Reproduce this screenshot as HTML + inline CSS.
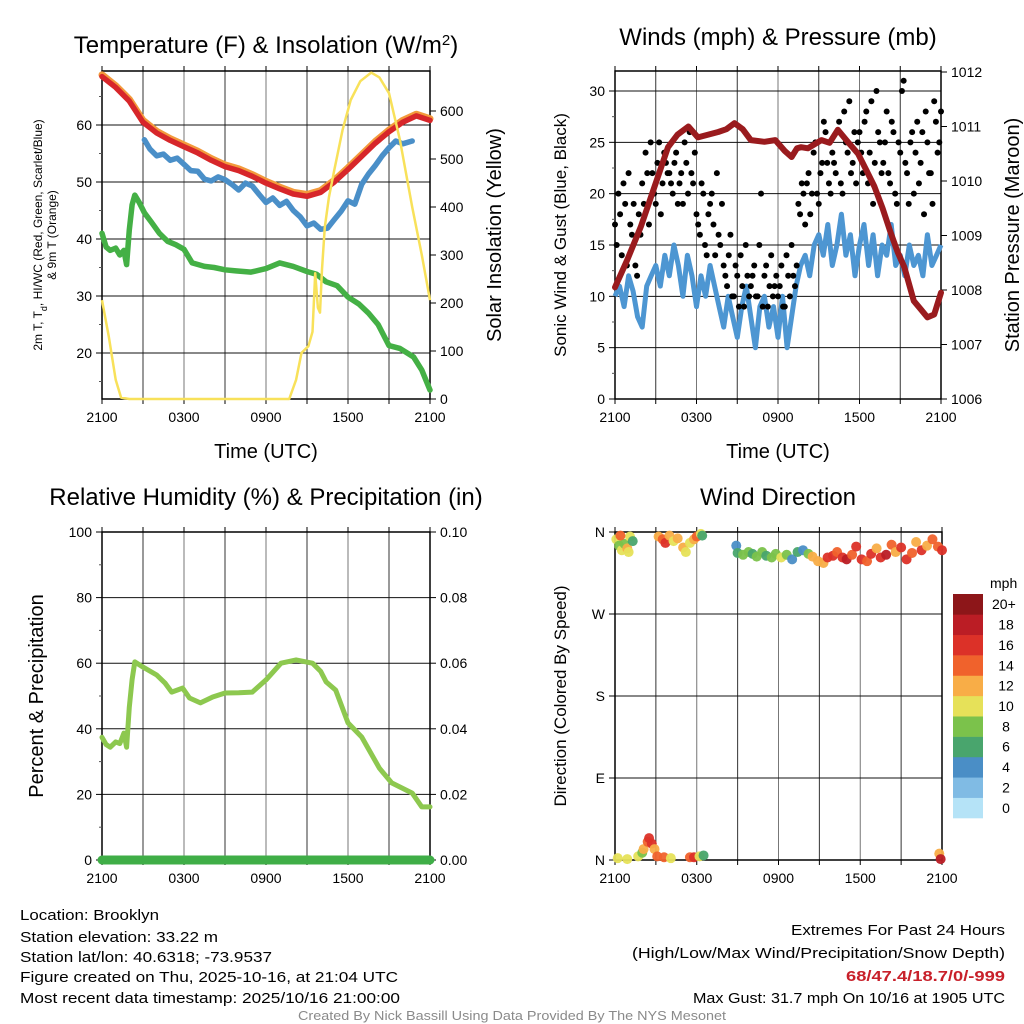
<!DOCTYPE html>
<html><head><meta charset="utf-8"><style>
html,body{margin:0;padding:0;background:#fff;}
svg{display:block;font-family:"Liberation Sans",sans-serif;}
</style></head><body>
<svg id="root" xmlns="http://www.w3.org/2000/svg" width="1024" height="1024" viewBox="0 0 1024 1024">
<rect x="0" y="0" width="1024" height="1024" fill="#fff"/>
<g id="layer"></g>
<text x="266" y="53" font-size="24" text-anchor="middle">Temperature (F) &amp; Insolation (W/m<tspan baseline-shift="super" font-size="15">2</tspan>)</text>
<text x="778" y="45" font-size="24" text-anchor="middle">Winds (mph) &amp; Pressure (mb)</text>
<text x="266" y="505" font-size="24" text-anchor="middle">Relative Humidity (%) &amp; Precipitation (in)</text>
<text x="778" y="505" font-size="24" text-anchor="middle">Wind Direction</text>
<text x="266" y="458" font-size="20" text-anchor="middle">Time (UTC)</text>
<text x="778" y="458" font-size="20" text-anchor="middle">Time (UTC)</text>
<text transform="translate(42,235) rotate(-90)" font-size="12" text-anchor="middle">2m T, T<tspan baseline-shift="sub" font-size="9">d</tspan>, HI/WC (Red, Green, Scarlet/Blue)</text>
<text transform="translate(56,235) rotate(-90)" font-size="12" text-anchor="middle">&amp; 9m T (Orange)</text>
<text transform="translate(501,235) rotate(-90)" font-size="20" text-anchor="middle">Solar Insolation (Yellow)</text>
<text transform="translate(566,235) rotate(-90)" font-size="17" text-anchor="middle">Sonic Wind &amp; Gust (Blue, Black)</text>
<text transform="translate(1019,235) rotate(-90)" font-size="20" text-anchor="middle">Station Pressure (Maroon)</text>
<text transform="translate(43,696) rotate(-90)" font-size="20" text-anchor="middle">Percent &amp; Precipitation</text>
<text transform="translate(566,696) rotate(-90)" font-size="17" text-anchor="middle">Direction (Colored By Speed)</text>
<g font-size="15" font-family="'Liberation Sans Narrow','Liberation Sans',sans-serif">
<text x="20" y="920" textLength="139" lengthAdjust="spacingAndGlyphs">Location: Brooklyn</text>
<text x="20" y="942" textLength="198" lengthAdjust="spacingAndGlyphs">Station elevation: 33.22 m</text>
<text x="20" y="962" textLength="252" lengthAdjust="spacingAndGlyphs">Station lat/lon: 40.6318; -73.9537</text>
<text x="20" y="982" textLength="378" lengthAdjust="spacingAndGlyphs">Figure created on Thu, 2025-10-16, at 21:04 UTC</text>
<text x="20" y="1003" textLength="380" lengthAdjust="spacingAndGlyphs">Most recent data timestamp: 2025/10/16 21:00:00</text>
<text x="1005" y="935" text-anchor="end" textLength="214" lengthAdjust="spacingAndGlyphs">Extremes For Past 24 Hours</text>
<text x="1005" y="958" text-anchor="end" textLength="373" lengthAdjust="spacingAndGlyphs">(High/Low/Max Wind/Precipitation/Snow Depth)</text>
<text x="1005" y="981" text-anchor="end" fill="#c8202a" font-weight="bold" textLength="159" lengthAdjust="spacingAndGlyphs">68/47.4/18.7/0/-999</text>
<text x="1005" y="1003" text-anchor="end" textLength="312" lengthAdjust="spacingAndGlyphs">Max Gust: 31.7 mph On 10/16 at 1905 UTC</text>
<text x="512" y="1020" font-size="13" fill="#8a8a8a" text-anchor="middle" textLength="428" lengthAdjust="spacingAndGlyphs">Created By Nick Bassill Using Data Provided By The NYS Mesonet</text>
</g>
</svg>
<script>
// ---- data ----
const xTickLabels = ["2100","0300","0900","1500","2100"];
const tempHours = [0,1,2,3,4,5,6,7,8,9,10,11,12,13,14,15,16,17,18,19,20,21,22,23,24];
const tempValues = [68.5,66.6,64.2,60.5,58.6,57.3,56.2,55.1,53.8,52.7,52.0,51.0,49.8,48.8,47.9,47.5,48.2,50.0,52.2,54.5,56.8,58.8,60.5,61.6,60.8];
const dewHours = [3.1,3.5,4,4.5,5,5.5,6,6.5,7,7.5,8,8.5,9,9.5,10,10.5,11,11.5,12,12.5,13,13.5,14,14.5,15,15.5,16,16.5,17,17.5,18,18.5,19,19.5,20,20.5,21,21.5,22,22.7];
const dewValues = [57.4,55.8,54.6,54.9,53.8,54.2,53.1,52.0,51.9,50.5,50.2,50.9,50.4,49.6,48.6,49.8,49.3,47.8,46.4,47.2,45.9,46.6,45.0,43.9,42.3,42.8,41.7,41.9,43.4,44.9,46.7,46.1,49.6,51.4,52.9,54.6,56.0,57.2,56.7,57.2];
const hiHours = [0,0.3,0.6,1,1.3,1.6,1.8,2,2.2,2.4,2.7,3.1,3.6,4.2,4.8,5.4,6,6.6,7.5,8.2,9,9.8,10.9,12,13,14,15,15.7,16.4,17.2,18,18.8,19.5,20.2,21,21.8,22.8,23.4,24];
const hiValues = [41.0,38.6,38.0,38.4,37.2,38.0,35.5,41.6,46.0,47.7,46.5,44.6,43.0,41.0,39.6,39.0,38.2,35.8,35.2,35.0,34.6,34.4,34.2,34.8,35.8,35.2,34.3,33.8,32.5,31.8,29.8,28.6,27.0,25.0,21.3,20.8,19.3,17.0,13.5];
const solarHours = [0,0.5,1,1.4,2,13.7,14.2,14.6,15.1,15.4,15.6,15.8,15.95,16.1,16.3,16.6,17,17.6,18.2,18.9,19.7,20.3,21,21.8,22.7,23.4,24];
const solarValues = [206,130,40,3,0,0,40,96,110,140,262,190,180,270,358,420,477,560,623,662,680,670,637,540,400,300,206];
const pressHours = [0,0.9,1.9,2.9,3.9,4.6,5.4,6.1,7.6,8.2,8.8,9.4,10,11,11.8,12.5,13,13.4,13.7,14.2,15.2,15.8,16.4,17.2,17.9,18.5,19.1,19.7,20.3,20.8,21.3,22,22.5,23,23.5,24];
const pressValues = [1008.05,1008.55,1009.16,1009.89,1010.62,1010.85,1011.0,1010.8,1010.9,1010.95,1011.06,1010.95,1010.75,1010.72,1010.75,1010.55,1010.44,1010.6,1010.62,1010.6,1010.75,1010.7,1010.94,1010.7,1010.5,1010.2,1009.9,1009.5,1009.05,1008.7,1008.42,1007.8,1007.65,1007.5,1007.55,1007.95];
const windValues = [10,11,9,12,10.5,8,7,11,12,13,11,14,12,15,13,10,14,12,9,12,10,13,11,9,7,10,8,6,9,11,8,5,9,10,7,9,6,10,5,8,11,13,14,12,15,16,14,17,13,15,18,14,16,12,15,17,13,16,12,15,14,17,13,14,12,15,13,14,12,16,13,14,15];
const gustValues = [17,20,14,19,22,16,13,18,21,24,17,22,19,25,21,23,22,20,24,21,19,23,26,21,18,16,20,14,19,17,22,15,13,11,16,10,12,14,9,12,11,13,10,20,12,9,14,11,10,13,9,12,15,11,19,21,17,22,20,25,19,23,26,21,24,22,27,20,25,29,23,21,26,22,28,24,19,30,25,23,28,21,26,19,24,31,22,25,20,27,23,18,25,22,29,24,28];
const gustValues2 = [15,18,21,13,17,19,12,16,19,22,25,20,23,18,24,22,21,23,19,22,25,20,22,24,17,21,15,18,20,14,16,19,12,14,10,13,9,11,15,10,12,10,15,9,13,11,10,12,11,9,14,10,12,13,18,20,21,18,24,20,22,27,23,20,23,26,21,28,24,22,26,25,24,27,21,29,23,26,22,25,22,27,20,25,30,23,19,26,24,21,26,28,22,19,27,25];
const rhHours = [0,0.3,0.6,1,1.3,1.6,1.8,2,2.2,2.4,3,4,4.6,5.1,5.9,6.4,7.2,8.1,9,10,11,12,13.1,14.2,15.4,16,16.4,17.1,18,19,20.3,21.2,22.7,23.4,24];
const rhValues = [37.4,35.2,34.4,36.0,35.5,38.7,34.4,46.6,55.0,60.4,58.8,56.4,54.0,51.2,52.4,49.4,47.9,49.7,50.9,51.0,51.2,54.9,60.0,61.0,60.0,57.5,54.3,51.8,41.8,37.5,28.0,23.5,20.4,16.2,16.2];
const precipValues = [0,0];
const dirHours = [0.1,0.3,0.5,0.7,0.9,1.1,1.3,0.4,1.0,3.2,3.5,3.7,4.0,4.3,4.6,5.0,5.2,5.5,5.8,6.0,6.3,6.4,8.9,9.0,9.4,9.8,10.1,10.4,10.8,11.1,11.5,11.8,12.2,12.6,13.0,13.4,13.8,14.2,14.5,14.9,15.3,15.6,16.0,16.3,16.7,17.0,17.4,17.7,18.1,18.5,18.8,19.2,19.5,19.9,20.3,20.6,21.0,21.4,21.8,22.1,22.5,22.9,23.3,23.7,24,0.2,0.9,1.7,2.0,2.1,2.4,2.5,2.7,2.9,3.1,3.6,4.1,5.5,5.8,6.2,6.5,23.8,23.9];
const dirValues = [352,345,340,347,342,355,350,356,338,355,352,348,356,350,353,343,338,348,352,355,358,356,345,337,335,338,336,333,338,334,332,336,332,335,330,338,340,336,333,328,326,332,334,338,332,330,335,344,330,328,336,342,332,335,346,338,343,330,337,349,340,345,352,344,340,2,1,4,8,12,20,24,18,12,4,3,2,3,3,4,5,7,1];
const dirSpeeds = [10,9,11,8,12,11,7,14,10,13,15,16,12,10,13,12,11,10,12,15,11,7,5,7,8,9,7,8,9,7,8,9,11,8,5,7,4,8,12,13,12,16,17,14,16,18,15,16,16,14,17,13,16,18,14,13,16,17,14,13,16,12,14,15,16,10,10,11,8,13,15,16,17,12,15,14,10,15,16,10,7,12,18];
const speedBins = ["0","2","4","6","8","10","12","14","16","18","20+"];
const speedColors = ["#b5e3f7","#80bbe4","#4a8ec6","#49a56d","#7bc24b","#e6e159","#f8ad47","#f0622c","#dc3128","#bb1d25","#8d1619"];

// ---- helpers ----
const NS = "http://www.w3.org/2000/svg";
const layer = document.getElementById("layer");
function mk(tag, attrs, parent) {
  const e = document.createElementNS(NS, tag);
  for (const k in attrs) e.setAttribute(k, attrs[k]);
  (parent || layer).appendChild(e);
  return e;
}
function lin(d0, d1, r0, r1) { return v => r0 + (v - d0) / (d1 - d0) * (r1 - r0); }
function pathOf(xs, ys, fx, fy) {
  return xs.map((x, i) => (i ? "L" : "M") + fx(x).toFixed(1) + "," + fy(ys[i]).toFixed(1)).join("");
}
function colorFor(s) { let i = Math.floor(s / 2); if (i > 10) i = 10; if (i < 0) i = 0; return speedColors[i]; }

function frame(x0, y0, x1, y1, yVals, fy, yLabels, rVals, fyR, rLabels, name, minorY) {
  const g = mk("g", {});
  
  
  const fx = lin(0, 24, x0, x1);
  for (let h = 3; h < 24; h += 3) {
    mk("line", {x1: fx(h), x2: fx(h), y1: y0, y2: y1, stroke: h % 6 ? "#333" : "#777", "stroke-width": 1}, g);
  }
  yVals.forEach(v => mk("line", {x1: x0, x2: x1, y1: fy(v), y2: fy(v), stroke: "#111", "stroke-width": 1}, g));
  mk("rect", {x: x0, y: y0, width: x1 - x0, height: y1 - y0, fill: "none", stroke: "#000", "stroke-width": 1.5}, g);
  for (let h = 0; h <= 24; h += 3) {
    mk("line", {x1: fx(h), x2: fx(h), y1: y1, y2: y1 + 5, stroke: "#000"}, g);
    mk("line", {x1: fx(h), x2: fx(h), y1: y0, y2: y0 - 5, stroke: "#000"}, g);
  }
  if (minorY) minorY.forEach(v => mk("line", {x1: x0 - 3, x2: x0, y1: fy(v), y2: fy(v), stroke: "#555"}, g));
  xTickLabels.forEach((t, i) => {
    const tx = mk("text", {x: fx(i * 6), y: y1 + 23, "font-size": 14, "text-anchor": "middle"}, g);
    tx.textContent = t;
    
    
  });
  yVals.forEach((v, i) => {
    mk("line", {x1: x0 - 6, x2: x0, y1: fy(v), y2: fy(v), stroke: "#000"}, g);
    const tx = mk("text", {x: x0 - 10, y: fy(v) + 5, "font-size": 14, "text-anchor": "end"}, g);
    tx.textContent = yLabels[i];
    
    
  });
  if (rVals) rVals.forEach((v, i) => {
    mk("line", {x1: x1, x2: x1 + 6, y1: fyR(v), y2: fyR(v), stroke: "#000"}, g);
    const tx = mk("text", {x: x1 + 10, y: fyR(v) + 5, "font-size": 14, "text-anchor": "start"}, g);
    tx.textContent = rLabels[i];
    
    
  });
  return fx;
}

// ---- Panel 1 ----
(function () {
  const x0 = 102, x1 = 430, y0 = 71, y1 = 399;
  const fy = lin(60, 50, 125, 182);
  const fyR = lin(0, 100, 399, 351);
  const fx = frame(x0, y0, x1, y1, [20, 30, 40, 50, 60], fy, ["20", "30", "40", "50", "60"], [0, 100, 200, 300, 400, 500, 600], fyR, ["0", "100", "200", "300", "400", "500", "600"], "temperature", [15, 25, 35, 45, 55, 65]);
  const orange = mk("path", {d: pathOf(tempHours, tempValues.map(v => v + 0.3), fx, fy), fill: "none", stroke: "#f39a3c", "stroke-width": 7, "stroke-linejoin": "round", "stroke-linecap": "round"});
  
  
  const red = mk("path", {d: pathOf(tempHours, tempValues, fx, fy), fill: "none", stroke: "#d7262a", "stroke-width": 5.5, "stroke-linejoin": "round", "stroke-linecap": "round"});
  
  
  const blue = mk("path", {d: pathOf(dewHours, dewValues, fx, fy), fill: "none", stroke: "#4a8fc8", "stroke-width": 5.5, "stroke-linejoin": "round", "stroke-linecap": "round"});
  
  
  const green = mk("path", {d: pathOf(hiHours, hiValues, fx, fy), fill: "none", stroke: "#44b045", "stroke-width": 5.5, "stroke-linejoin": "round", "stroke-linecap": "round"});
  
  
  const yel = mk("path", {d: pathOf(solarHours, solarValues, fx, fyR), fill: "none", stroke: "#f8e15a", "stroke-width": 2.5, "stroke-linejoin": "round"});
  
  
})();

// ---- Panel 2 ----
(function () {
  const x0 = 615, x1 = 941, y0 = 71, y1 = 399;
  const fy = lin(0, 30, 399, 91);
  const fyR = lin(1006, 1012, 399, 72);
  const fx = frame(x0, y0, x1, y1, [0, 5, 10, 15, 20, 25, 30], fy, ["0", "5", "10", "15", "20", "25", "30"], [1006, 1007, 1008, 1009, 1010, 1011, 1012], fyR, ["1006", "1007", "1008", "1009", "1010", "1011", "1012"], "wind", [2.5, 7.5, 12.5, 17.5, 22.5, 27.5]);
  const wh = windValues.map((v, i) => i / 3);
  const w = mk("path", {d: pathOf(wh, windValues, fx, fy), fill: "none", stroke: "#4d96d2", "stroke-width": 5, "stroke-linejoin": "round"});
  
  
  gustValues.forEach((v, i) => {
    const c = mk("circle", {cx: fx(i / 4), cy: fy(v), r: 3, fill: "#000"});
    
    
  });
  gustValues2.forEach((v, i) => {
    const c = mk("circle", {cx: fx(i / 4 + 0.125), cy: fy(v), r: 3, fill: "#000"});
    
    
  });
  const p = mk("path", {d: pathOf(pressHours, pressValues, fx, fyR), fill: "none", stroke: "#9a1b1e", "stroke-width": 6, "stroke-linejoin": "round", "stroke-linecap": "round"});
  
  
})();

// ---- Panel 3 ----
(function () {
  const x0 = 102, x1 = 430, y0 = 532, y1 = 860;
  const fy = lin(0, 100, 860, 532);
  const fyR = lin(0, 0.1, 860, 532);
  const fx = frame(x0, y0, x1, y1, [0, 20, 40, 60, 80, 100], fy, ["0", "20", "40", "60", "80", "100"], [0, 0.02, 0.04, 0.06, 0.08, 0.1], fyR, ["0.00", "0.02", "0.04", "0.06", "0.08", "0.10"], "humidity", [10, 30, 50, 70, 90]);
  const rh = mk("path", {d: pathOf(rhHours, rhValues, fx, fy), fill: "none", stroke: "#8dc84f", "stroke-width": 5, "stroke-linejoin": "round", "stroke-linecap": "round"});
  
  
  const pr = mk("path", {d: pathOf([0, 24], precipValues, fx, fyR), fill: "none", stroke: "#3fae47", "stroke-width": 9, "stroke-linecap": "round"});
  
  
})();

// ---- Panel 4 ----
(function () {
  const x0 = 615, x1 = 942, y0 = 532, y1 = 860;
  const fy = lin(0, 360, 860, 532);
  const fx = frame(x0, y0, x1, y1, [0, 90, 180, 270, 360], fy, ["N", "E", "S", "W", "N"], null, null, null, "direction", null);
  dirValues.forEach((d, i) => {
    const c = mk("circle", {cx: fx(dirHours[i]), cy: fy(d), r: 5, fill: colorFor(dirSpeeds[i]), "fill-opacity": 0.95});
    
    
  });
  const lg = mk("g", {});
  
  
  const t = mk("text", {x: 990, y: 588, "font-size": 14}, lg);
  t.textContent = "mph";
  
  
  const bh = 224 / speedColors.length;
  speedColors.forEach((col, i) => {
    const yy = 594 + (speedColors.length - 1 - i) * bh;
    const r = mk("rect", {x: 953, y: yy, width: 30, height: bh + 0.3, fill: col}, lg);
    
    
    const tx = mk("text", {x: i === 10 ? 992 : 1006, y: yy + bh / 2 + 5, "font-size": 14, "text-anchor": i === 10 ? "start" : "middle"}, lg);
    tx.textContent = speedBins[i];
    
    
  });
})();
</script>
</body></html>
